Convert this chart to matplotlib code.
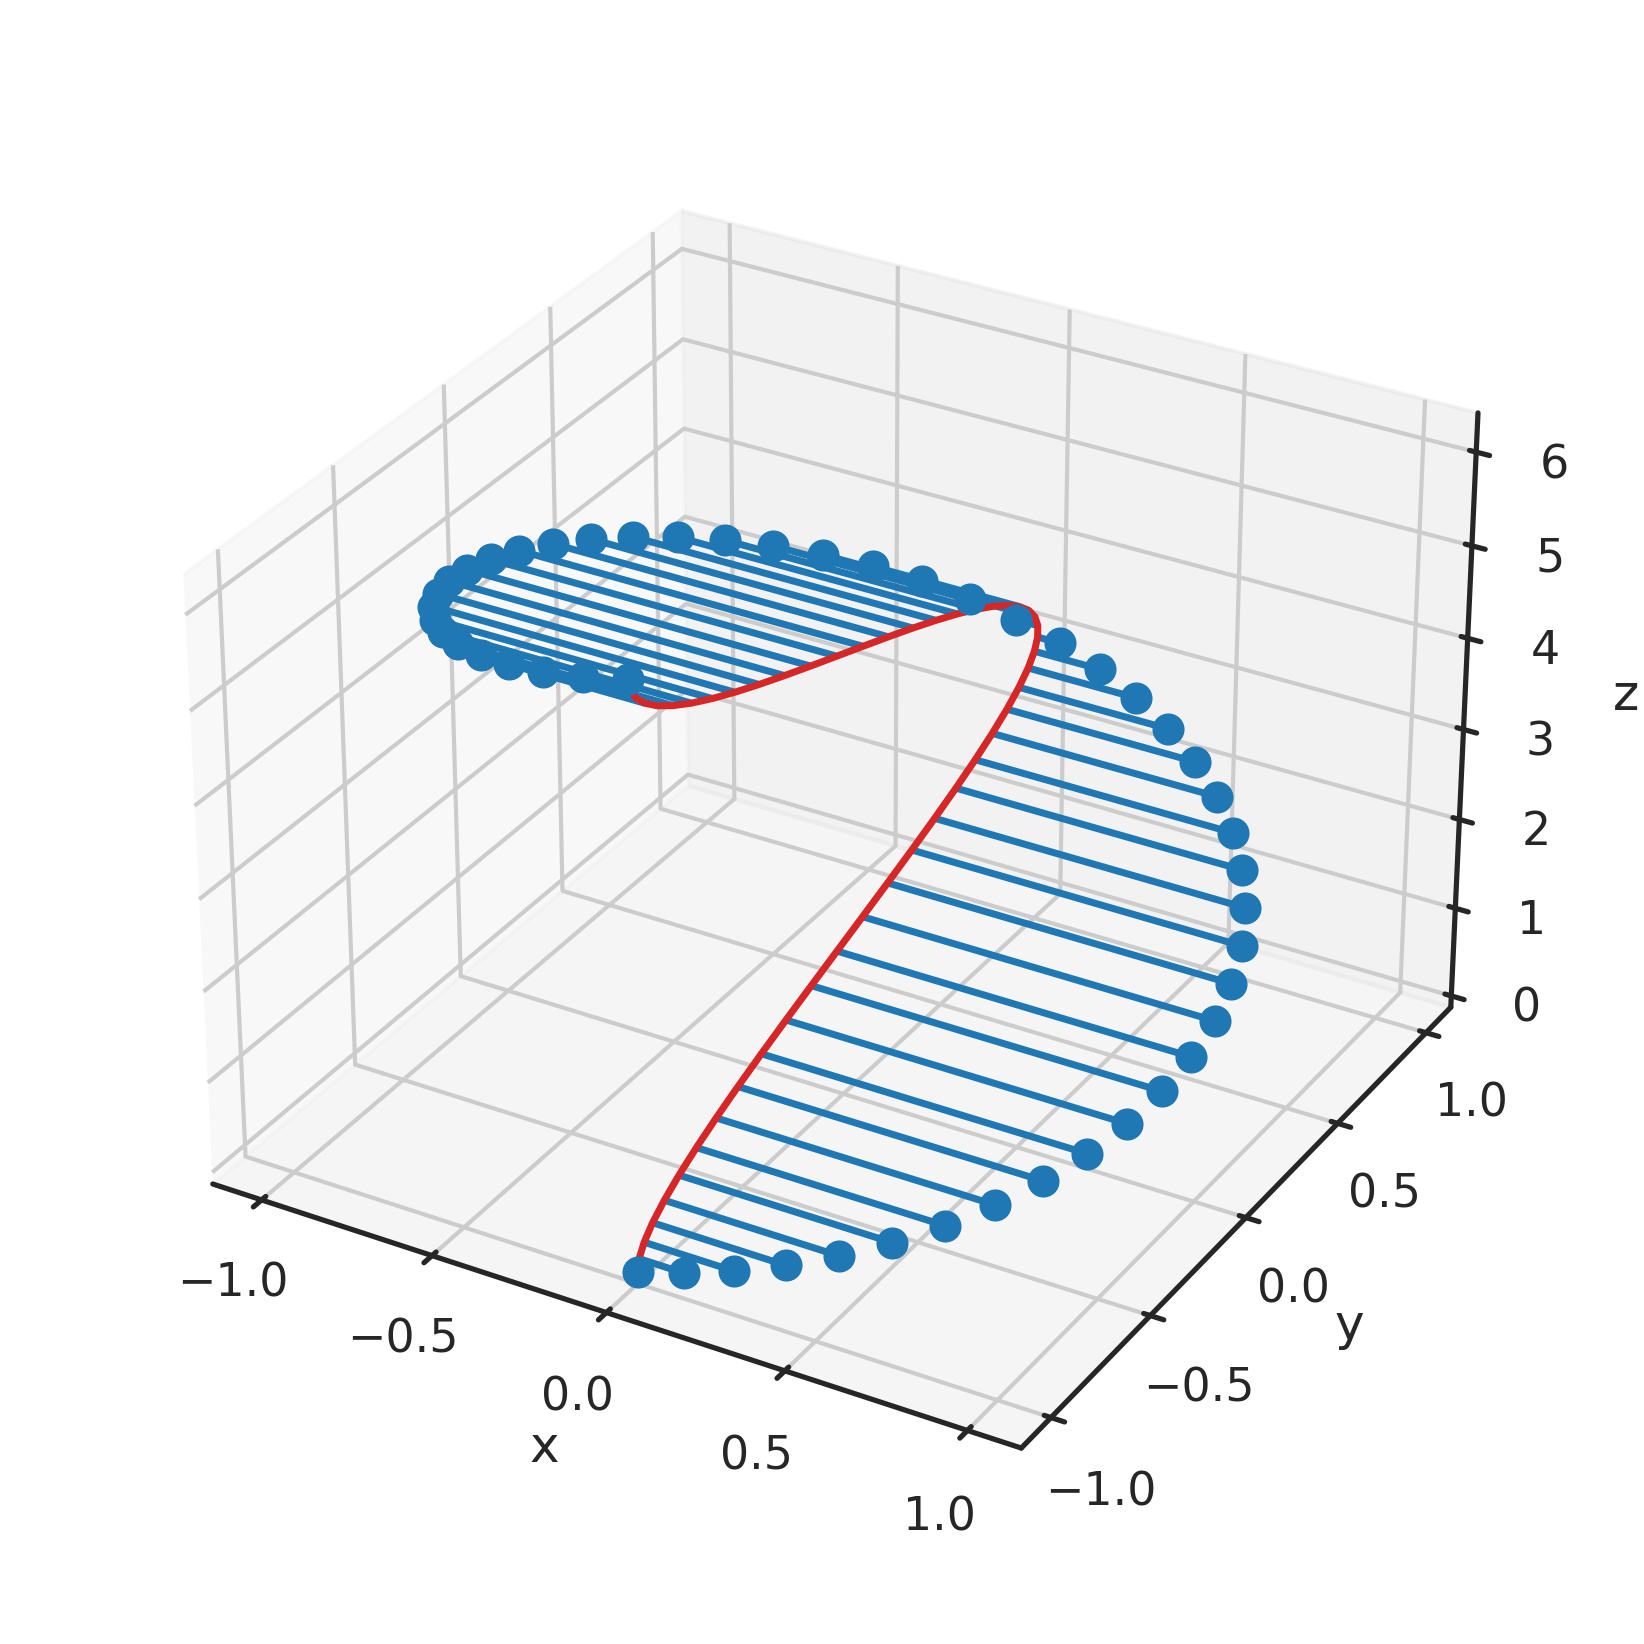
import matplotlib
matplotlib.use("Agg")
import matplotlib.pyplot as plt
import seaborn as sns

# values, in drawing order around the helix
x_vals = [0.0, 0.1279, 0.2537, 0.3753, 0.4907, 0.5981, 0.6957, 0.7818, 0.8551, 0.9144,
          0.9587, 0.9872, 0.9995, 0.9954, 0.9749, 0.9385, 0.8866, 0.8202, 0.7403, 0.6483,
          0.5456, 0.4339, 0.3151, 0.1912, 0.0641, -0.0641, -0.1912, -0.3151, -0.4339, -0.5456,
          -0.6483, -0.7403, -0.8202, -0.8866, -0.9385, -0.9749, -0.9954, -0.9995, -0.9872, -0.9587,
          -0.9144, -0.8551, -0.7818, -0.6957, -0.5981, -0.4907, -0.3753, -0.2537, -0.1279, 0.0]
y_vals = [-1.0, -0.9918, -0.9673, -0.9269, -0.8713, -0.8014, -0.7183, -0.6235, -0.5184, -0.4048,
          -0.2845, -0.1596, -0.0321, 0.0960, 0.2225, 0.3454, 0.4625, 0.5721, 0.6723, 0.7614,
          0.8381, 0.9010, 0.9491, 0.9816, 0.9980, 0.9980, 0.9816, 0.9491, 0.9010, 0.8381,
          0.7614, 0.6723, 0.5721, 0.4625, 0.3454, 0.2225, 0.0960, -0.0321, -0.1596, -0.2845,
          -0.4048, -0.5184, -0.6235, -0.7183, -0.8014, -0.8713, -0.9269, -0.9673, -0.9918, -1.0]
z_vals = [0.0, 0.1282, 0.2565, 0.3847, 0.5129, 0.6411, 0.7694, 0.8976, 1.0258, 1.1541,
          1.2823, 1.4105, 1.5387, 1.6670, 1.7952, 1.9234, 2.0517, 2.1799, 2.3081, 2.4363,
          2.5646, 2.6928, 2.8210, 2.9493, 3.0775, 3.2057, 3.3339, 3.4622, 3.5904, 3.7186,
          3.8468, 3.9751, 4.1033, 4.2315, 4.3598, 4.4880, 4.6162, 4.7444, 4.8727, 5.0009,
          5.1291, 5.2574, 5.3856, 5.5138, 5.6420, 5.7703, 5.8985, 6.0267, 6.1550, 6.2832]
xy_ticks = [-1.0, -0.5, 0.0, 0.5, 1.0]

sns.set_theme(style="whitegrid", palette="tab10")

fig = plt.figure(figsize=(5.483, 5.483), dpi=300)
ax = fig.add_axes([0.0633, 0.0639, 0.875, 0.875], projection="3d")
markerline, stemlines, baseline = ax.stem(x_vals, y_vals, z_vals, orientation="x")
plt.setp(markerline, markersize=6.7)
plt.setp(stemlines, linewidth=1.68)
plt.setp(baseline, linewidth=1.68)

ax.set_xlabel("x", labelpad=2)
ax.set_ylabel("y", labelpad=2)
ax.set_zlabel("z", labelpad=3)
ax.set_xticks(xy_ticks)
ax.set_yticks(xy_ticks)
ax.tick_params(axis="x", pad=2.6)
ax.tick_params(axis="y", pad=2.6)
ax.tick_params(axis="z", pad=3.4)
for axis in (ax.xaxis, ax.yaxis, ax.zaxis):
    axis.line.set_color(".15")
fig.savefig("out.png", dpi=300)
